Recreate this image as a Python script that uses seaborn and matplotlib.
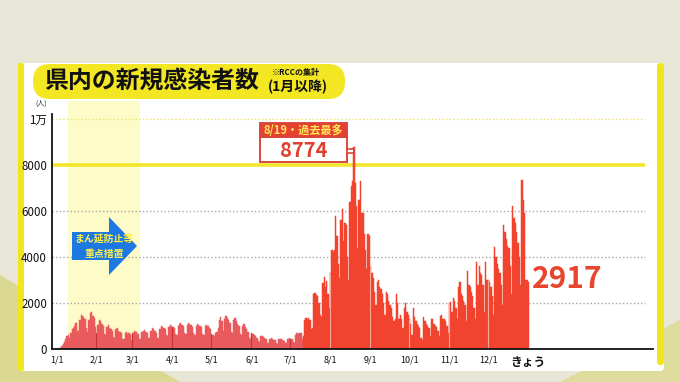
import numpy as np
import pandas as pd
import seaborn as sns
import matplotlib.pyplot as plt
import matplotlib.transforms as mtransforms
from matplotlib.patches import FancyBboxPatch, Rectangle, Polygon

# ---------------- data (daily new cases) ----------------
jan = [10, 20, 30, 60, 130, 230, 300, 430, 550, 620, 470, 680, 850, 900, 1000, 1150,
       800, 780, 1280, 1500, 1450, 1400, 1300, 900, 750, 1250, 1550, 1600, 1450, 1350, 950]
feb = [700, 1050, 1250, 1200, 1100, 1000, 650, 600, 950, 1050, 900, 850, 800, 520,
       500, 850, 900, 800, 750, 700, 450, 430, 700, 750, 650, 680, 600, 400]
mar = [700, 780, 750, 720, 650, 450, 420, 720, 800, 820, 760, 700, 480, 460, 800, 900,
       850, 780, 700, 500, 480, 850, 1000, 950, 900, 850, 600, 560, 950, 1050, 1000]
apr = [950, 900, 650, 600, 1000, 1100, 1150, 1050, 1000, 700, 650, 1050, 1150, 1100,
       1050, 950, 680, 620, 1000, 1100, 1050, 1000, 950, 650, 600, 980, 1050, 1000, 900, 850]
may = [650, 600, 580, 700, 750, 900, 1250, 1400, 1200, 800, 1300, 1450, 1350, 1250,
       1150, 750, 700, 1250, 1350, 1200, 1100, 1000, 650, 600, 1000, 1100, 950, 850, 750,
       480, 450]
jun = [700, 650, 600, 550, 500, 330, 300, 550, 580, 520, 480, 430, 280, 260, 450, 480,
       430, 400, 380, 250, 230, 420, 450, 420, 380, 350, 250, 240, 450, 480]
jul = [450, 420, 300, 280, 600, 700, 650, 680, 700, 450, 550, 1250, 1350, 1300, 1350,
       1250, 850, 900, 2400, 2450, 2350, 2300, 2000, 1500, 1400, 2850, 3150, 2700, 2950,
       2400, 1800]
aug = [3300, 4300, 4200, 4300, 5800, 4900, 3700, 3100, 5600, 6100, 4700, 5500, 5400,
       4000, 3000, 6400, 7100, 7300, 8774, 7200, 6200, 4400, 6500, 7300, 5900, 5900, 5000,
       4300, 3500, 5000, 4900]
sep = [3550, 3300, 3100, 2500, 1900, 2900, 3000, 2700, 2600, 2400, 2000, 1500, 2500,
       2400, 2100, 1900, 1800, 1400, 1200, 1300, 2400, 2000, 1300, 1500, 1300, 900, 1800,
       2000, 1600, 1500]
oct_ = [1300, 1100, 600, 1800, 1400, 1200, 1100, 1000, 900, 500, 400, 1400, 1200, 1100,
        1000, 900, 550, 1300, 1300, 1100, 1000, 950, 800, 550, 1450, 1500, 1300, 1300,
        1200, 1000, 700]
nov = [2000, 2050, 1600, 2200, 2100, 1800, 1300, 2700, 2900, 2400, 2300, 2100, 1900,
       1200, 3400, 2800, 2700, 2500, 2300, 1800, 1300, 3800, 2800, 3600, 3300, 3200, 2800,
       1600, 3800, 3000]
dec = [3000, 2900, 2700, 2300, 1500, 4450, 4000, 3700, 3500, 3300, 2800, 1900, 5400,
       5100, 4800, 4500, 4400, 3600, 2400, 6200, 5700, 5500, 5100, 4600, 4000, 2800, 7350,
       6500, 5900, 3000, 3000]
today = [2917]

cases = jan + feb + mar + apr + may + jun + jul + aug + sep + oct_ + nov + dec + today
days = list(range(len(cases)))
split_day = 191  # colour change of bars

tick_days = [0, 31, 59, 90, 120, 151, 181, 212, 243, 273, 304, 334, 365]
tick_labels = ["1/1", "2/1", "3/1", "4/1", "5/1", "6/1", "7/1", "8/1", "9/1",
               "10/1", "11/1", "12/1", "きょう"]
y_ticks = [0, 2000, 4000, 6000, 8000, 10000]
y_labels = ["0", "2000", "4000", "6000", "8000", "1万"]

peak_day = 230
peak_value = 8774
last_value = 2917
measure_start, measure_end = 8.5, 64.5

# ---------------- styling ----------------
sns.set_style("white")
plt.rcParams['font.family'] = ['Noto Sans CJK JP', 'DejaVu Sans']

W, H = 680, 382
fig = plt.figure(figsize=(W / 100, H / 100), dpi=100)
fig.patch.set_facecolor("#E8E6D6")
T = mtransforms.Affine2D().scale(1, -1).translate(0, H)  # pixel (top-left origin) -> display

# background stripes / panel
fig.patches.append(Polygon([(0, 275), (180, 382), (0, 382)], closed=True, transform=T,
                           fc="#DAD893", ec="none", zorder=-20))
fig.patches.append(Polygon([(560, 382), (680, 320), (680, 382)], closed=True, transform=T,
                           fc="#DEDC9C", ec="none", zorder=-20))
fig.patches.append(FancyBboxPatch((18, 63), 646, 308, boxstyle="round,pad=0,rounding_size=4",
                                  transform=T, fc="white", ec="none", zorder=-10))
fig.patches.append(FancyBboxPatch((18, 63), 6, 308, boxstyle="round,pad=0,rounding_size=2",
                                  transform=T, fc="#F2E51A", ec="none", zorder=-9))
fig.patches.append(FancyBboxPatch((657, 63), 7, 302, boxstyle="round,pad=0,rounding_size=3",
                                  transform=T, fc="#F2E51A", ec="none", zorder=-9))
# title pill
fig.patches.append(FancyBboxPatch((33, 64), 312, 35, boxstyle="round,pad=0,rounding_size=17",
                                  transform=T, fc="#F3E623", ec="none", zorder=-8))


def fx(x):
    return x / W


def fy(y):
    return 1 - y / H


fig.text(fx(44), fy(82), "県内の新規感染者数", fontsize=17.2, fontweight="bold",
         color="#111111", va="center", ha="left")
fig.text(fx(268), fy(87), "(1月以降)", fontsize=10, fontweight="bold",
         color="#111111", va="center", ha="left")
fig.text(fx(272), fy(73), "※RCCの集計", fontsize=5.8, fontweight="bold",
         color="#111111", va="center", ha="left")
fig.text(fx(41), fy(104), "(人)", fontsize=5, color="#222222", va="center", ha="center")

# ---------------- axes ----------------
x_left_px, x_right_px = 52, 653
y_bottom_px, y_top_px = 349, 114.4
ax = fig.add_axes([fx(x_left_px), fy(y_bottom_px), (x_right_px - x_left_px) / W,
                   (y_bottom_px - y_top_px) / H])
ax.set_facecolor("none")

px_per_day = (488.3 - 56.7) / 334
xmin = -(56.7 - x_left_px) / px_per_day
xmax = (x_right_px - 56.7) / px_per_day
grid_end = (645 - 56.7) / px_per_day

df = pd.DataFrame({"day": days, "cases": cases})
df["phase"] = np.where(df["day"] < split_day, "early", "late")
palette = {"early": "#E85A5C", "late": "#F2432F"}

# shaded measure period (extends a bit above the axes)
ax.add_patch(Rectangle((measure_start, 0), measure_end - measure_start, 10800,
                       fc="#FDFBC8", ec="none", zorder=0, clip_on=False))

sns.barplot(data=df, x="day", y="cases", hue="phase", palette=palette, native_scale=True,
            width=1.0, dodge=False, saturation=1, linewidth=0, errorbar=None, legend=False,
            ax=ax, zorder=3)
for p in ax.patches:
    if hasattr(p, "get_height") and p.get_zorder() == 3:
        p.set_edgecolor(p.get_facecolor())
        p.set_linewidth(0.35)

# month lines inside bars
for d in tick_days[1:-1]:
    c = "#C93234" if d < split_day else "#F8A899"
    ax.vlines(d - 0.5, 0, cases[d], color=c, lw=0.8, zorder=4)

# grid lines
for v in [2000, 4000, 6000]:
    ax.plot([xmin, grid_end], [v, v], color="#A8A8A8", lw=1.0, ls=(0, (1, 1.6)), zorder=1)
ax.plot([xmin, grid_end], [10000, 10000], color="#EDE36A", lw=1.0, ls=(0, (1, 1.6)), zorder=1)
ax.plot([xmin, grid_end], [8000, 8000], color="#F2E52A", lw=2.6, zorder=2,
        solid_capstyle="butt")

ax.set_xlim(xmin, xmax)
ax.set_ylim(0, (y_bottom_px - y_top_px) / 0.023)

ax.set_xticks(tick_days)
ax.set_xticklabels(tick_labels)
ax.set_xlabel("")
ax.set_ylabel("")
ax.set_yticks(y_ticks)
ax.set_yticklabels(y_labels)
ax.tick_params(axis="x", direction="out", length=3.5, width=1, color="black", pad=1.5,
               labelsize=6.5, labelcolor="#111111")
ax.tick_params(axis="y", length=0, pad=3.5, labelsize=8.3, labelcolor="#111111")
for lab in ax.get_yticklabels():
    lab.set_family(["Liberation Sans Narrow", "Noto Sans CJK JP"])
for lab in ax.get_xticklabels():
    lab.set_family(["Liberation Sans Narrow", "Noto Sans CJK JP"])
xl = ax.get_xticklabels()[-1]
xl.set_family(["Noto Sans CJK JP"])
xl.set_fontsize(8.5)
xl.set_fontweight("bold")

for s in ["top", "right"]:
    ax.spines[s].set_visible(False)
for s in ["left", "bottom"]:
    ax.spines[s].set_color("#111111")
    ax.spines[s].set_linewidth(1.3)
    ax.spines[s].set_zorder(6)


# blue arrow with text (measure period)
def dx(p):
    return (p - 56.7) / px_per_day


def dy(p):
    return (y_bottom_px - p) / 0.023


arrow = [(dx(72), dy(232)), (dx(109), dy(232)), (dx(109), dy(217)), (dx(137), dy(246)),
         (dx(109), dy(275)), (dx(109), dy(260)), (dx(72), dy(260))]
ax.add_patch(Polygon(arrow, closed=True, fc="#1E78E2", ec="none", zorder=5))
ax.text(dx(104), dy(239.5), "まん延防止等", fontsize=7.1, fontweight="bold", color="#FFF04A",
        ha="center", va="center", zorder=6)
ax.text(dx(104), dy(253.5), "重点措置", fontsize=7.1, fontweight="bold", color="#FFF04A",
        ha="center", va="center", zorder=6)

# peak annotation
bx0, bx1 = dx(260), dx(347)
ax.add_patch(Rectangle((bx0, dy(162)), bx1 - bx0, dy(137) - dy(162), fc="white",
                       ec="#D9473A", lw=1.4, zorder=7, clip_on=False))
ax.add_patch(Rectangle((bx0, dy(137)), bx1 - bx0, dy(123) - dy(137), fc="#E5412F",
                       ec="#D9473A", lw=1.4, zorder=7, clip_on=False))
ax.add_patch(Polygon([(bx1, dy(149)), (dx(353.5), dy(149)), (dx(353.5), dy(153)),
                      (bx1, dy(153))], closed=True, fc="white", ec="#D9473A", lw=1.2,
                     zorder=8, clip_on=False))
ax.plot([dx(353.5), dx(353.5)], [dy(149), peak_value * 0.97], color="#D9473A", lw=1.2,
        zorder=8)
ax.text((bx0 + bx1) / 2, dy(130), "8/19・過去最多", fontsize=8, fontweight="bold",
        color="#FFE75A", ha="center", va="center", zorder=9)
ax.text((bx0 + bx1) / 2, dy(150), f"{peak_value}", fontsize=14.5, fontweight="bold",
        color="#E0402F", ha="center", va="center", zorder=9)

# latest value
ax.text(dx(532), dy(279), f"{last_value}", fontsize=21.5, fontweight="bold",
        color="#E8442E", ha="left", va="center", zorder=9)

fig.savefig("out.png", dpi=100, facecolor=fig.get_facecolor())
